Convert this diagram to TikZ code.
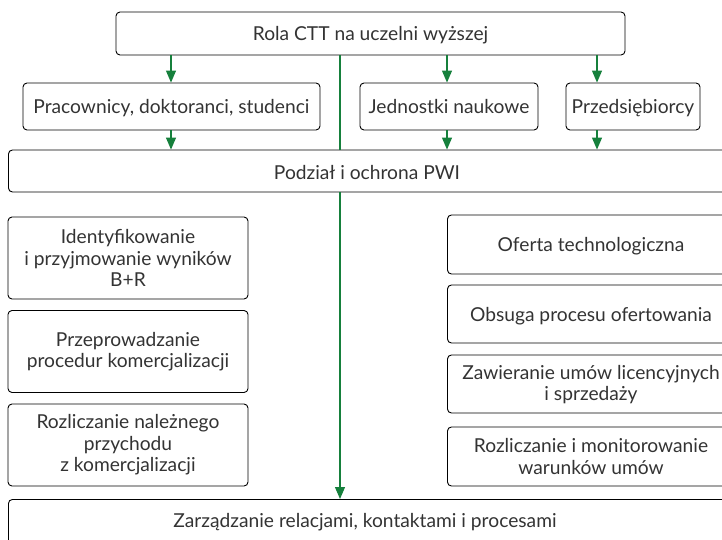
\documentclass[tikz,border=0pt]{standalone}
\usepackage{fontspec}
\setmainfont{Lato}
\usetikzlibrary{arrows.meta}
\definecolor{flowgreen}{HTML}{16803C}
\definecolor{inkgray}{HTML}{333333}
\begin{document}
\begin{tikzpicture}[x=1pt,y=-1pt,
  label text/.style={text=inkgray, align=center, font=\fontsize{19.2}{21.5}\selectfont},
  box/.style={draw=black, line width=0.9pt, rounded corners=4pt, inner sep=0pt, label text},
  arr/.style={draw=flowgreen, line width=1.2pt, -{Triangle[length=12pt,width=10pt]}},
  plain/.style={draw=flowgreen, line width=1.2pt}]
\useasboundingbox (0,0) rectangle (722,540);
\clip (0,0) rectangle (722,540);
% top level
\node[box, minimum width=509pt, minimum height=43pt, text depth=-1.5pt] (rola) at (370.5,33.5) {Rola CTT na uczelni wyższej};
% stakeholders
\node[box, minimum width=297pt, minimum height=47pt, text depth=-1.5pt] (prac) at (171.5,106.5) {Pracownicy, doktoranci, studenci};
\node[box, minimum width=178pt, minimum height=47pt, text depth=-1.5pt] (jedn) at (449,106.5) {Jednostki naukowe};
\node[box, minimum width=134pt, minimum height=47pt, text depth=-1.5pt] (przed) at (633,106.5) {Przedsiębiorcy};
% IP protection
\node[box, minimum width=730pt, minimum height=42pt, anchor=west] (pwi) at (8,171) {};
\node[label text] (pwitxt) at (367,172.5) {Podział i ochrona PWI};
% left column
\node[box, minimum width=240pt, minimum height=82pt] (ident) at (128,258) {Identyfikowanie\\i przyjmowanie wyników\\B+R};
\node[box, minimum width=240pt, minimum height=82pt] (proc) at (128,351.5) {Przeprowadzanie\\procedur komercjalizacji};
\node[box, minimum width=240pt, minimum height=82pt] (rozl) at (128,445) {Rozliczanie należnego\\przychodu\\z komercjalizacji};
% right column
\node[box, minimum width=290pt, minimum height=59pt, anchor=west] (ofer) at (447,244.5) {};
\node[label text] (ofertxt) at (591,246.5) {Oferta technologiczna};
\node[box, minimum width=290pt, minimum height=58pt, anchor=west] (obs) at (447,314) {};
\node[label text] (obstxt) at (591,316.5) {Obsuga procesu ofertowania};
\node[box, minimum width=290pt, minimum height=58pt, anchor=west] (zaw) at (447,384) {};
\node[label text] (zawtxt) at (591,384.5) {Zawieranie umów licencyjnych\\i sprzedaży};
\node[box, minimum width=290pt, minimum height=59pt, anchor=west] (monit) at (447,456.5) {};
\node[label text] (monittxt) at (591,456.5) {Rozliczanie i monitorowanie\\warunków umów};
% bottom
\node[box, minimum width=730pt, minimum height=60pt, anchor=north west] (zarz) at (8,499) {};
\node[label text] (zarztxt) at (365,522) {Zarządzanie relacjami, kontaktami i procesami};
% connector columns
\coordinate (colA) at (171,0);
\coordinate (colB) at (447,0);
\coordinate (colC) at (597,0);
\coordinate (spine) at (340,0);
\draw[arr] (rola.south -| colA) -- (prac.north -| colA);
\draw[arr] (rola.south -| colB) -- (jedn.north -| colB);
\draw[arr] (rola.south -| colC) -- (przed.north -| colC);
\draw[arr] (prac.south -| colA) -- (pwi.north -| colA);
\draw[arr] (jedn.south -| colB) -- (pwi.north -| colB);
\draw[arr] (przed.south -| colC) -- (pwi.north -| colC);
\draw[plain] (rola.south -| spine) -- (pwi.north -| spine);
\draw[arr] (pwi.south -| spine) -- (zarz.north -| spine);
\end{tikzpicture}
\end{document}
